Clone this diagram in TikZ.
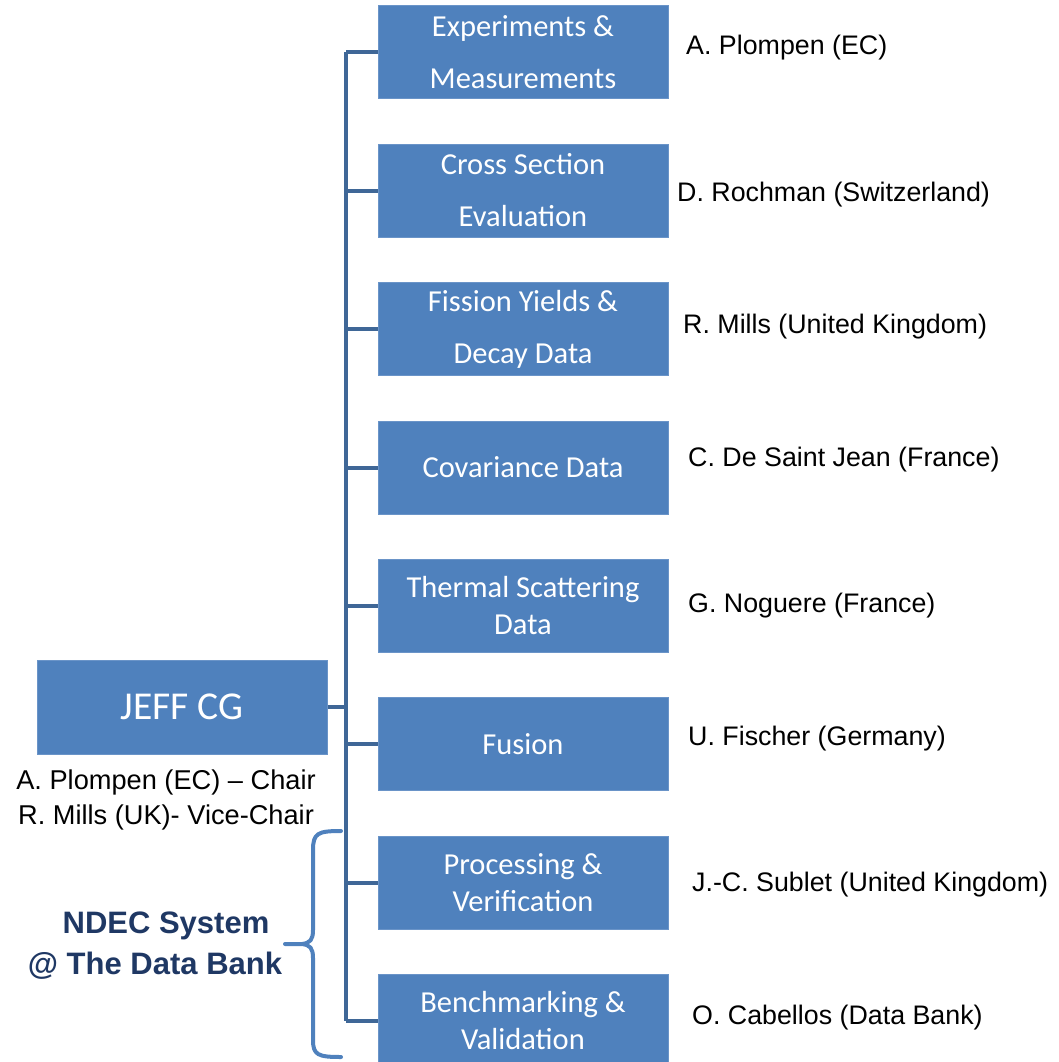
\documentclass[tikz,border=0pt]{standalone}
\usepackage{fontspec}
\setmainfont{Liberation Sans}
\newfontfamily\boxfont{Carlito}
\definecolor{boxblue}{HTML}{4F81BD}
\definecolor{boxedge}{HTML}{6A94C8}
\definecolor{linkblue}{HTML}{3F6797}
\definecolor{ndecblue}{HTML}{1F3864}
\begin{document}
\begin{tikzpicture}[x=1pt,y=-1pt,
  unitbox/.style={draw=boxedge,line width=1pt,fill=boxblue,minimum width=290pt,minimum height=93pt,inner sep=0pt,text=white,align=center,font=\boxfont\fontsize{30.5}{52}\selectfont},
  tightbox/.style={unitbox,font=\boxfont\fontsize{30.5}{37}\selectfont},
  person/.style={anchor=base west,font=\fontsize{26.8}{30}\selectfont,inner sep=0pt},
  link/.style={draw=linkblue,line width=4pt},
  chairtxt/.style={font=\fontsize{27.2}{35}\selectfont,align=center,inner sep=0pt}]
\useasboundingbox (0,0) rectangle (1059,1062);
% sub-group boxes
\node[unitbox] (b1) at (523,52) {Experiments \&\\Measurements};
\node[unitbox] (b2) at (523,190.5) {Cross Section\\Evaluation};
\node[unitbox] (b3) at (523,329) {Fission Yields \&\\Decay Data};
\node[unitbox] (b4) at (523,467.5) {Covariance Data};
\node[tightbox] (b5) at (523,606) {Thermal Scattering\\Data};
\node[unitbox] (b6) at (523,744) {Fusion};
\node[tightbox] (b7) at (523,882.5) {Processing \&\\Verification};
\node[tightbox] (b8) at (523,1021) {Benchmarking \&\\Validation};
% JEFF CG box
\node[unitbox,minimum height=94pt,font=\boxfont\fontsize{39.5}{44}\selectfont] (jeff) at (182,707) {JEFF CG};
% tree connectors
\coordinate (spinetop) at (346,52);
\coordinate (spinebot) at (346,1021);
\draw[link] (spinetop) -- (spinebot);
\foreach \b in {b1,b2,b3,b4,b5,b6,b7,b8}{
  \draw[link] (spinetop |- \b.west) -- (\b.west);
}
\draw[link] (jeff.east) -- (spinetop |- jeff.east);
% person labels
\node[person] (p1) at (686,55) {A. Plompen (EC)};
\node[person] (p2) at (677,201) {D. Rochman (Switzerland)};
\node[person] (p3) at (683,333) {R. Mills (United Kingdom)};
\node[person] (p4) at (688,466) {C. De Saint Jean (France)};
\node[person] (p5) at (688,612) {G. Noguere (France)};
\node[person] (p6) at (688,745) {U. Fischer (Germany)};
\node[person] (p7) at (692,891) {J.-C. Sublet (United Kingdom)};
\node[person] (p8) at (692,1024) {O. Cabellos (Data Bank)};
% chair text
\node[chairtxt] (chair) at (166,800) {A. Plompen (EC) -- Chair\\R. Mills (UK)- Vice-Chair};
% brace
\coordinate (bt) at (341,831);
\coordinate (bb) at (341,1057);
\coordinate (tip) at (285,944);
\draw[draw=boxblue,line width=4pt,line cap=round,line join=round]
  (bt) .. controls (318,831) and (313,833) .. (313,850) -- (313,930)
  .. controls (313,940) and (310,943) .. (302,944) -- (tip)
  (302,944) .. controls (310,945) and (313,948) .. (313,958) -- (313,1040)
  .. controls (313,1055) and (318,1057) .. (bb);
% NDEC label
\node[font=\bfseries\fontsize{31}{41}\selectfont,text=ndecblue,align=center,inner sep=0pt] (ndec) at (155,946) {\hspace*{22pt}NDEC System\\@ The Data Bank};
\end{tikzpicture}
\end{document}
